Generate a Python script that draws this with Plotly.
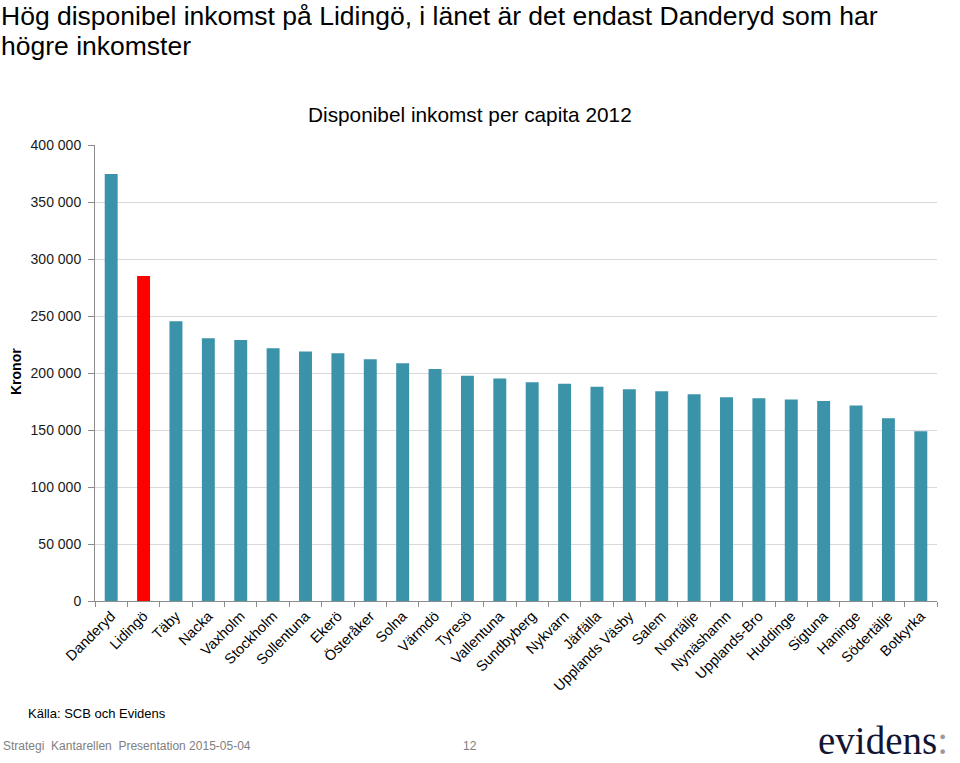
import plotly.graph_objects as go

kommuner = ["Danderyd", "Lidingö", "Täby", "Nacka", "Vaxholm", "Stockholm", "Sollentuna",
            "Ekerö", "Österåker", "Solna", "Värmdö", "Tyresö", "Vallentuna", "Sundbyberg",
            "Nykvarn", "Järfälla", "Upplands Väsby", "Salem", "Norrtälje", "Nynäshamn",
            "Upplands-Bro", "Huddinge", "Sigtuna", "Haninge", "Södertälje", "Botkyrka"]
inkomst = [374500, 285000, 245300, 230500, 229000, 221700, 218800,
           217300, 212000, 208600, 203400, 197500, 195100, 191900,
           190500, 188000, 185800, 184000, 181400, 178800,
           177900, 176700, 175400, 171400, 160300, 148900]
y_ticks = [0, 50000, 100000, 150000, 200000, 250000, 300000, 350000, 400000]

TEAL = "#3B93AA"
RED = "#FF0000"
colors = [RED if k == "Lidingö" else TEAL for k in kommuner]

W, H = 960, 763
L, R, T, B = 95, 937, 145, 601

def px(x):
    return (x - L) / (R - L)

def py(y):
    return (B - y) / (B - T)

fig = go.Figure(go.Bar(x=kommuner, y=inkomst, marker_color=colors, marker_line_width=0))

font = "Liberation Sans, Arial, sans-serif"

anns = [
    dict(text="Hög disponibel inkomst på Lidingö, i länet är det endast Danderyd som har",
         x=px(0), y=py(0), xanchor="left", yanchor="top", align="left", borderpad=0,
         font=dict(size=26.5, color="#000000", family=font)),
    dict(text="högre inkomster",
         x=px(0), y=py(30), xanchor="left", yanchor="top", align="left", borderpad=0,
         font=dict(size=26.5, color="#000000", family=font)),
    dict(text="Disponibel inkomst per capita 2012", x=px(470), y=py(115), xanchor="center", yanchor="middle",
         font=dict(size=20.8, color="#000000", family=font)),
    dict(text="<b>Kronor</b>", x=px(16), y=py(372), xanchor="center", yanchor="middle", textangle=-90,
         font=dict(size=14, color="#000000", family=font)),
    dict(text="Källa: SCB och Evidens", x=px(26), y=py(713), xanchor="left", yanchor="middle",
         font=dict(size=13, color="#000000", family=font)),
    dict(text="Strategi  Kantarellen  Presentation 2015-05-04", x=px(1), y=py(746), xanchor="left", yanchor="middle",
         font=dict(size=12, color="#808080", family=font)),
    dict(text="12", x=px(470), y=py(746), xanchor="center", yanchor="middle",
         font=dict(size=12, color="#808080", family=font)),
    dict(text="evidens<span style='color:#9a9a9a'>:</span>", x=px(950), y=py(740), xanchor="right", yanchor="middle",
         font=dict(size=39, color="#141433", family="Liberation Serif, Times New Roman, serif")),
]
for a in anns:
    a.update(xref="paper", yref="paper", showarrow=False)

fig.update_layout(
    width=W, height=H,
    margin=dict(l=L, r=W - R, t=T, b=H - B, autoexpand=False),
    paper_bgcolor="white", plot_bgcolor="white",
    separators=", ",
    bargap=0.6,
    showlegend=False,
    font=dict(family=font, color="#000000"),
    annotations=anns,
)
fig.update_xaxes(
    tickangle=-45, tickfont=dict(size=14.5, color="#000000", family=font),
    showline=True, linecolor="#8c8c8c", linewidth=1,
    ticks="outside", tickson="boundaries", ticklen=5, tickcolor="#8c8c8c",
    showgrid=False, range=[-0.5, len(kommuner) - 0.5],
)
fig.update_yaxes(
    range=[0, 400000], tickvals=y_ticks, tickformat=",d",
    tickfont=dict(size=14, color="#1a1a1a", family=font),
    showline=True, linecolor="#8c8c8c", linewidth=1,
    ticks="outside", ticklen=6, tickcolor="#8c8c8c", ticklabelstandoff=4,
    showgrid=True, gridcolor="#d9d9d9", gridwidth=1, zeroline=False,
)

fig.write_html("out.html", config={"displayModeBar": False},
               post_script="document.body.style.margin='0px';")
